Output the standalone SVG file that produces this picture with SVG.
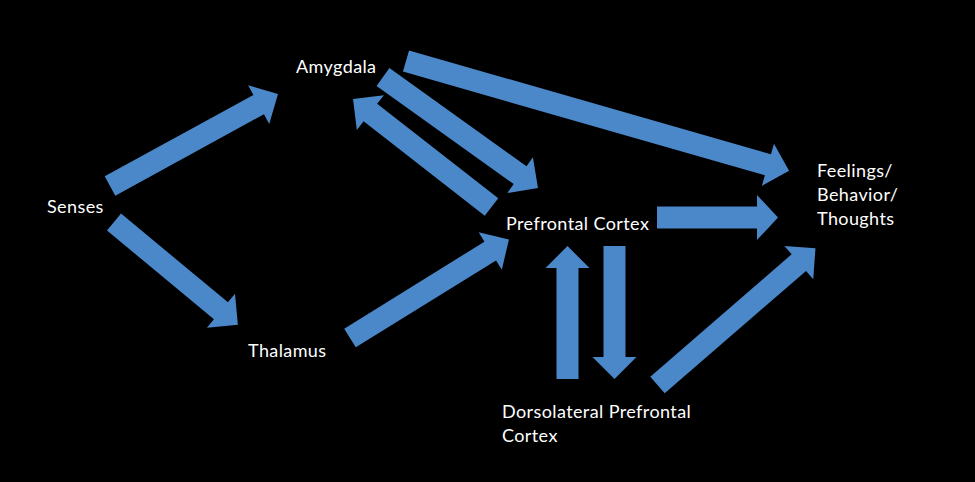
<svg xmlns="http://www.w3.org/2000/svg" width="975" height="482" viewBox="0 0 975 482">
<style>
.bg{fill:#000}
.arr{fill:#4a88ca}
.lbl{fill:#fff;font-family:Lato,"Open Sans","Liberation Sans",sans-serif;font-size:18px;letter-spacing:0.4px}
</style>
<rect class="bg" x="0" y="0" width="975" height="482"/>
<g id="connectors">
<polygon class="arr" transform="translate(110,186) rotate(-28.7)" points="0,-11 169.5,-11 169.5,-22 191.5,0 169.5,22 169.5,11 0,11"/>
<polygon class="arr" transform="translate(114,222) rotate(39.7)" points="0,-11 139,-11 139,-22 161,0 139,22 139,11 0,11"/>
<polygon class="arr" transform="translate(383,77) rotate(35.6)" points="0,-11 168.6,-11 168.6,-22 190.6,0 168.6,22 168.6,11 0,11"/>
<polygon class="arr" transform="translate(491.5,207) rotate(-142.05)" points="0,-11 153.6,-11 153.6,-22 175.6,0 153.6,22 153.6,11 0,11"/>
<polygon class="arr" transform="translate(406,61) rotate(16)" points="0,-11 376.5,-11 376.5,-22 398.5,0 376.5,22 376.5,11 0,11"/>
<polygon class="arr" transform="translate(657,217.5)" points="0,-11 100,-11 100,-22.5 121,0 100,22.5 100,11 0,11"/>
<polygon class="arr" transform="translate(350,338) rotate(-31.8)" points="0,-11 165,-11 165,-22 187,0 165,22 165,11 0,11"/>
<polygon class="arr" transform="translate(567.5,379) rotate(-90)" points="0,-11 111,-11 111,-22 133,0 111,22 111,11 0,11"/>
<polygon class="arr" transform="translate(614.5,246) rotate(90)" points="0,-11 111,-11 111,-22 133,0 111,22 111,11 0,11"/>
<polygon class="arr" transform="translate(657.5,385) rotate(-40.9)" points="0,-11 187,-11 187,-22 209,0 187,22 187,11 0,11"/>
</g>
<g id="senses"><text class="lbl" x="47" y="213">Senses</text></g>
<g id="amygdala"><text class="lbl" x="296" y="73">Amygdala</text></g>
<g id="thalamus"><text class="lbl" x="248" y="357">Thalamus</text></g>
<g id="prefrontal"><text class="lbl" x="506" y="230">Prefrontal Cortex</text></g>
<g id="dlpfc"><text class="lbl" x="502" y="418">Dorsolateral Prefrontal</text><text class="lbl" x="502" y="442">Cortex</text></g>
<g id="feelings"><text class="lbl" x="817" y="177">Feelings/</text><text class="lbl" x="817" y="201">Behavior/</text><text class="lbl" x="817" y="225">Thoughts</text></g>
</svg>
